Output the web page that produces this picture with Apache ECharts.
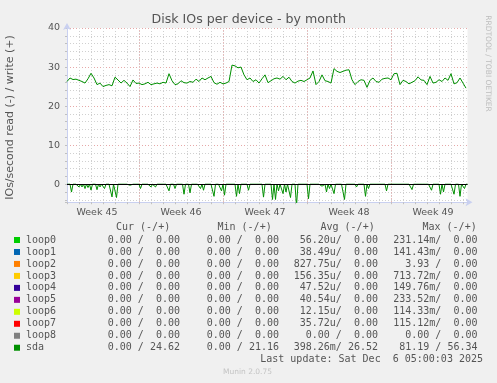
<!DOCTYPE html>
<html><head><meta charset="utf-8">
<script src="https://cdn.jsdelivr.net/npm/echarts@6/dist/echarts.min.js"></script>
<style>html,body{margin:0;padding:0;background:#f0f0f0}#c{width:497px;height:383px}</style>
</head><body><div id="c"></div>
<script>
// ---- data ----
// x in days after Mon 3 Nov 2025 00:00
const startDay = 1;
const writeStepDays = 0.25;   // one write sample every 6 hours
const readStepDays = 0.125;   // one read sample every 3 hours
const sdaWrite = [
26.3,27.2,26.8,26.9,26.6,26.3,25.9,27.0,28.4,27.2,
25.5,25.9,25.0,25.3,25.5,25.2,27.4,26.7,25.9,26.6,
25.9,25.0,26.7,25.8,25.9,25.5,25.7,26.1,25.5,25.7,
25.9,25.7,26.1,25.9,28.3,26.5,25.5,25.7,26.5,26.0,
25.9,26.3,26.1,26.9,26.3,27.2,26.75,27.2,27.6,26.0,
25.6,26.1,25.7,25.9,26.3,30.5,30.3,29.8,30.0,28.0,
26.75,27.2,26.3,26.75,25.9,27.0,28.0,26.0,26.5,27.0,
27.2,26.9,27.6,26.75,27.4,26.3,25.9,26.4,26.6,26.3,
26.75,27.2,29.0,25.5,26.3,28.0,26.5,26.3,25.9,29.6,
28.9,28.6,28.9,29.2,29.3,26.75,25.5,26.3,26.75,26.6,
24.8,26.6,27.2,26.3,26.1,26.9,27.1,27.2,26.75,28.3,
28.4,25.5,26.6,26.3,25.7,26.1,26.5,27.5,26.7,26.6,
25.5,27.6,25.9,26.1,26.75,26.3,27.2,26.6,28.3,25.7,
26.0,27.2,25.9,24.6
];
const sdaRead = [
0,0,0,2.0,0,0,0,0,0.7,0,
0.7,0,1.1,0,0.85,0,1.5,0,0,0,
1.4,0,0.7,0,0,1.1,0,0,0,0,
3.25,0,0,3.4,0,0,0,0,0,0,
0,0,0.26,0,0,0,0,0,0,1.1,
0,0,0,0,0,0,0.7,0,0,0.7,
0,0,0,0,0,0,0,0,1.7,0,
0,0,1.1,0,0,0,0,0,2.56,0,
0,0,2.2,0,0,0,0,0,0,1.1,
0,1.54,0,0,0,0,0,0,3.1,0,
0,0,0,1.7,0,2.8,0,0,0,0,
0,0,0,3.1,0,2.4,0,0,0,0,
0,1.54,0,0,0,0,0,0,0,0,
0,3.3,0,0,0,0,0,3.9,0,3.9,
0,1.7,0,0,2.4,0,2.0,0,0,3.4,
0,0,0,5.5,0,0,0,0,0,0,
0,3.7,0,0,0,0,0,0,0,0,
0.5,0,0,1.97,0,1.1,0,0,2.4,0,
0,0,0,0,0,3.9,0,0,0,0.5,
0,0,0,0.7,0,0.5,0,0,0,3.1,
0,1.1,0,0,0,0,0,0,0,0,
0,0,0,1.7,0,0,0,0,0,0,
0,0.5,0,0,0,0,0,0,0,0,
1.37,0,0,0,0,0,0,0,0,0,
0,0,0,1.54,0,0,0,0,0,2.56,
0,1.97,0,0,0,0,0,0,2.56,0,
0,0,3.1,0,0,1.1,0,0
];
const xMin = 1, xMax = 34.375;
const yMin = -4.6, yMax = 40;
const weekLabels = ['Week 45','Week 46','Week 47','Week 48','Week 49'];
const weekLabelDays = [3.5, 10.5, 17.5, 24.5, 31.5];
const weekStartDays = [7, 14, 21, 28];

const deviceNames = ['loop0','loop1','loop2','loop3','loop4','loop5','loop6','loop7','loop8','sda'];
const curCol = ['0.00 /  0.00','0.00 /  0.00','0.00 /  0.00','0.00 /  0.00','0.00 /  0.00','0.00 /  0.00','0.00 /  0.00','0.00 /  0.00','0.00 /  0.00','0.00 / 24.62'];
const minCol = ['0.00 /  0.00','0.00 /  0.00','0.00 /  0.00','0.00 /  0.00','0.00 /  0.00','0.00 /  0.00','0.00 /  0.00','0.00 /  0.00','0.00 /  0.00','0.00 / 21.16'];
const avgCol = ['56.20u/  0.00','38.49u/  0.00','827.75u/  0.00','156.35u/  0.00','47.52u/  0.00','40.54u/  0.00','12.15u/  0.00','35.72u/  0.00','0.00 /  0.00','398.26m/ 26.52'];
const maxCol = ['231.14m/  0.00','141.43m/  0.00','3.93 /  0.00','713.72m/  0.00','149.76m/  0.00','233.52m/  0.00','114.33m/  0.00','115.12m/  0.00','0.00 /  0.00','81.19 / 56.34'];
const colHeaders = ['Cur (-/+)','Min (-/+)','Avg (-/+)','Max (-/+)'];
const lastUpdate = 'Last update: Sat Dec  6 05:00:03 2025';

// ---- styles ----
const palette = ['#00cc00','#0066b3','#ff8000','#ffcc00','#330099','#990099','#ccff00','#ff0000','#808080','#008f00'];
const txt = '#555';
const axisCol = '#c9d0f0';
const minorGrid = '#d0d0d0';
const majorGrid = '#e6a8a8';
const mono = '10px "DejaVu Sans Mono"';

const chart = echarts.init(document.getElementById('c'), null, {renderer: 'canvas'});

const writeData = sdaWrite.map((v, i) => [startDay + i * writeStepDays, v]);
const readData = sdaRead.map((v, i) => [startDay + i * readStepDays, -v]);

const graphics = [];
function T(x, y, text, font, fill, align, extra) {
  graphics.push(Object.assign({
    type: 'text', x: x, y: y, silent: true,
    style: {text: text, font: font, fill: fill, align: align || 'left', verticalAlign: 'middle',
            textAlign: align || 'left', textVerticalAlign: 'middle'}
  }, extra || {}));
}
T(248.7, 19.3, 'Disk IOs per device - by month', '12.6px "DejaVu Sans"', txt, 'center');
T(10, 117.5, 'IOs/second read (-) / write (+)', '11px "DejaVu Sans"', txt, 'center', {rotation: Math.PI / 2});
T(487.5, 63.5, 'RRDTOOL / TOBI OETIKER', '7.5px "DejaVu Sans"', '#bdbdbd', 'center', {rotation: -Math.PI / 2});

const headerX = [116, 217.5, 320.5, 422.5];
colHeaders.forEach((h, k) => T(headerX[k], 227.3, h, mono, txt, 'left'));
const colRight = [180, 279, 378, 477.5];
const cols = [curCol, minCol, avgCol, maxCol];
deviceNames.forEach((n, r) => {
  const y = 240 + r * 11.97;
  graphics.push({type: 'rect', silent: true, shape: {x: 14, y: y - 3, width: 6, height: 6}, style: {fill: palette[r]}});
  T(26, y, n, mono, txt, 'left');
  cols.forEach((c, k) => T(colRight[k], y, c[r], mono, txt, 'right'));
});
T(483, 359.7, lastUpdate, mono, txt, 'right');
T(247.5, 371.7, 'Munin 2.0.75', '7.5px "DejaVu Sans"', '#c4c4c4', 'center');

const option = {
  animation: false,
  backgroundColor: '#f0f0f0',
  grid: {left: 67, right: 29.5, top: 28, bottom: 180.8, show: true, backgroundColor: '#ffffff', borderWidth: 0, outerBoundsMode: 'none', containLabel: false},
  xAxis: [{
    type: 'value', min: xMin, max: xMax, interval: 1, position: 'bottom',
    axisLine: {show: true, onZero: false, lineStyle: {color: axisCol, width: 1}, symbol: ['none', 'arrow'], symbolSize: [6, 7], symbolOffset: [0, 5]},
    axisTick: {show: true, length: 2, lineStyle: {color: '#c0c0c0'}},
    splitLine: {show: true, showMaxLine: false, lineStyle: {color: minorGrid, type: [1, 2], width: 1}},
    axisLabel: {customValues: weekLabelDays, formatter: v => weekLabels[weekLabelDays.indexOf(v)] || '', color: txt, fontSize: 9.5, fontFamily: 'DejaVu Sans', margin: 5}
  }],
  yAxis: [{
    type: 'value', min: yMin, max: yMax, position: 'left', offset: 0,
    axisLine: {show: true, onZero: false, lineStyle: {color: axisCol, width: 1}, symbol: ['none', 'arrow'], symbolSize: [6, 7], symbolOffset: [0, 5]},
    axisTick: {show: false}, axisLabel: {show: false}, splitLine: {show: false}
  }, {
    type: 'value', min: -yMax, max: -yMin, inverse: true, interval: 2, position: 'left', offset: 0,
    axisLine: {show: false}, axisLabel: {show: false},
    axisTick: {show: true, length: 2, lineStyle: {color: '#c0c0c0'}},
    splitLine: {show: true, showMaxLine: false, lineStyle: {color: minorGrid, type: [1, 2], width: 1}}
  }, {
    type: 'value', min: -yMax, max: -yMin, inverse: true, interval: 10, position: 'left', offset: 0,
    axisLine: {show: false}, axisTick: {show: false},
    axisLabel: {show: true, showMaxLabel: false, formatter: v => String(-v), color: txt, fontSize: 9.5, fontFamily: 'DejaVu Sans', margin: 7},
    splitLine: {show: true, showMaxLine: false, lineStyle: {color: majorGrid, type: [1, 2], width: 1}}
  }],
  series: [{
    name: 'sda read', type: 'line', xAxisIndex: 0, yAxisIndex: 0, data: readData,
    symbol: 'none', showSymbol: false, clip: true, z: 3,
    lineStyle: {color: palette[9], width: 1}, itemStyle: {color: palette[9]},
    markLine: {silent: true, symbol: 'none', label: {show: false}, z: 1,
      lineStyle: {color: majorGrid, type: [1, 2], width: 1},
      data: weekStartDays.map(d => ({xAxis: d}))}
  }, {
    name: 'sda write', type: 'line', xAxisIndex: 0, yAxisIndex: 0, data: writeData,
    symbol: 'none', showSymbol: false, clip: true, z: 3,
    lineStyle: {color: palette[9], width: 1}, itemStyle: {color: palette[9]},
    markLine: {silent: true, symbol: 'none', label: {show: false}, z: 5,
      lineStyle: {color: '#000000', type: 'solid', width: 1},
      data: [{yAxis: 0}]}
  }],
  graphic: graphics
};
chart.setOption(option);
</script>
</body></html>
